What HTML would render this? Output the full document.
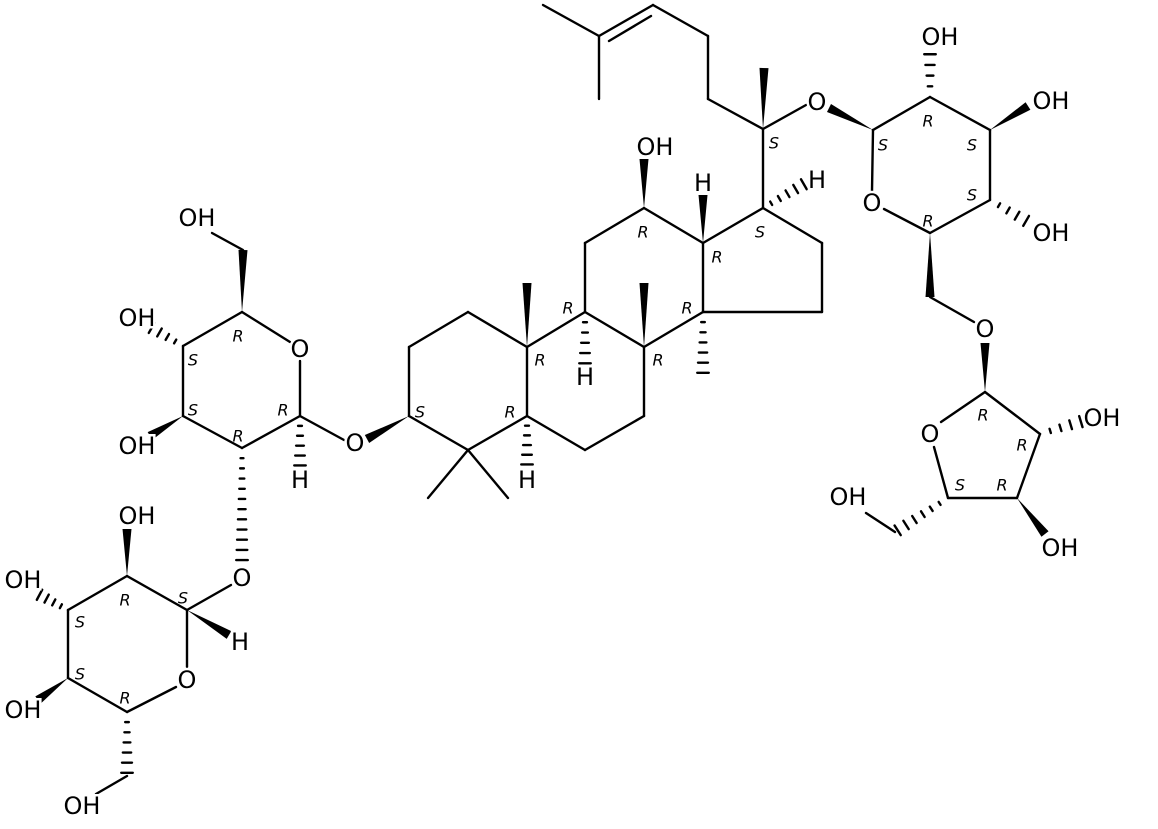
<!DOCTYPE html>
<html><head><meta charset="utf-8"><style>
html,body{margin:0;padding:0;background:#fff;}
svg{display:block;}
text{font-family:"DejaVu Sans","Liberation Sans",sans-serif;fill:#000;}
.a{font-size:24px;paint-order:stroke;stroke:#fff;stroke-width:5px;text-anchor:middle;dominant-baseline:central;}
.s{font-size:16px;font-style:italic;text-anchor:middle;dominant-baseline:central;}
</style></head><body>
<svg id="g" width="1158" height="829" viewBox="0 0 1158 829" xmlns="http://www.w3.org/2000/svg">
<g id="b" stroke="#000" stroke-width="2.4" stroke-linecap="round" fill="none"></g>
<g id="w" fill="#000"></g>
<g id="t"></g>
</svg>
<script>
var L=[[543,5,599,36],[599,36,653,5],[609,41,651,16],[599,36,599,99],[653,5,708,36],[708,36,708,99],[708,99,763,129],[763,129,806,105],[763,129,763,208],
[763,208,822,243],[822,243,822,312],[822,312,703,312],[703,312,703,243],[703,243,763,208],[703,243,644,208],[644,208,585,243],[585,243,585,312],[585,312,644,347],[644,347,703,312],[585,312,527,347],[527,347,468,312],[468,312,409,347],[409,347,409,416],[409,416,468,450],[468,450,527,416],[527,416,527,347],[527,416,585,450],[585,450,644,416],[644,416,644,347],[468,450,428,498],[468,450,508,498],
[300,416,344,440],[300,416,300,361],[290,342,242,312],[243,250,212,233],[242,312,183,346],[183,346,183,416],[183,416,242,448],[242,448,300,416],
[231,585,187,610],[187,610,187,667],[176,687,127,712],[127,712,68,678],[68,678,68,610],[68,610,127,576],[127,576,187,610],[127,776,96,794],
[873,130,930,97],[930,97,990,130],[990,130,990,200],[990,200,930,233],[930,233,884,209],[872,191,873,130],[930,297,974,322],
[985,392,941,422],[985,392,1040,434],[1040,434,1017,498],[1017,498,948,498],[948,498,934,447],[895,532,866,513]];
var W=[[763,129,764,68],[703,243,703,195],[644,208,644,159],[644,347,644,283],[527,347,527,283],[409,416,367,439],[242,312,243,250],[183,416,150,436],[187,610,229,635],[68,678,38,700],[127,576,127,529],[873,130,829,108],[990,130,1028,106],[930,233,930,297],[985,392,985,343],[1017,498,1045,534]];
var H=[[763,208,806,183],[703,312,703,376],[585,312,585,366],[527,416,527,467],[300,416,300,468],[183,346,150,327],[242,448,242,566],[68,610,38,594],[127,712,127,776],[930,97,930,52],[990,200,1028,222],[1040,434,1083,421],[948,498,895,532]];
var T=[["OH",655,147],["H",703,183],["H",817,180],["O",817,102],["H",585,377],["H",527,480],["O",355,443],["OH",197,218],["OH",137,318],["OH",137,446],["H",300,480],["O",300,349],["O",242,578],["OH",137,516],["OH",23,580],["OH",23,710],["H",240,642],["O",187,680],["OH",82,806],["OH",940,37],["OH",1051,101],["OH",1051,233],["O",872,203],["O",985,329],["O",930,434],["OH",1102,418],["OH",1060,548],["OH",848,497]];
var S=[["S",774,143],["R",643,232],["R",717,257],["S",760,232],["R",568,308],["R",687,308],["R",540,360],["R",658,360],["S",420,412],["R",510,412],
["R",238,336],["S",193,360],["S",193,410],["R",283,410],["R",238,436],["R",125,600],["S",183,598],["S",80,622],["S",80,674],["R",125,698],
["S",883,145],["R",928,121],["S",972,145],["S",972,195],["R",928,221],["R",983,415],["R",1022,445],["R",1002,485],["S",960,485]];
var ns="http://www.w3.org/2000/svg";
function el(n,a,p){var e=document.createElementNS(ns,n);for(var k in a)e.setAttribute(k,a[k]);document.getElementById(p).appendChild(e);return e;}
L.forEach(function(l){el("line",{x1:l[0],y1:l[1],x2:l[2],y2:l[3]},"b");});
W.forEach(function(w){var dx=w[2]-w[0],dy=w[3]-w[1],d=Math.hypot(dx,dy),px=-dy/d*4.5,py=dx/d*4.5;
el("polygon",{points:w[0]+","+w[1]+" "+(w[2]+px)+","+(w[3]+py)+" "+(w[2]-px)+","+(w[3]-py)},"w");});
H.forEach(function(h){var dx=h[2]-h[0],dy=h[3]-h[1],d=Math.hypot(dx,dy),n=Math.max(4,Math.round(d/11));
for(var i=1;i<=n;i++){var f=i/n*0.95,cx=h[0]+dx*f,cy=h[1]+dy*f,hw=1+5*f,px=-dy/d*hw,py=dx/d*hw;
el("line",{x1:cx+px,y1:cy+py,x2:cx-px,y2:cy-py},"b");}});
T.forEach(function(t){var e=el("text",{x:t[1],y:t[2],"class":"a"},"t");e.textContent=t[0];});
S.forEach(function(t){var e=el("text",{x:t[1],y:t[2],"class":"s"},"t");e.textContent=t[0];});
</script>
</body></html>
